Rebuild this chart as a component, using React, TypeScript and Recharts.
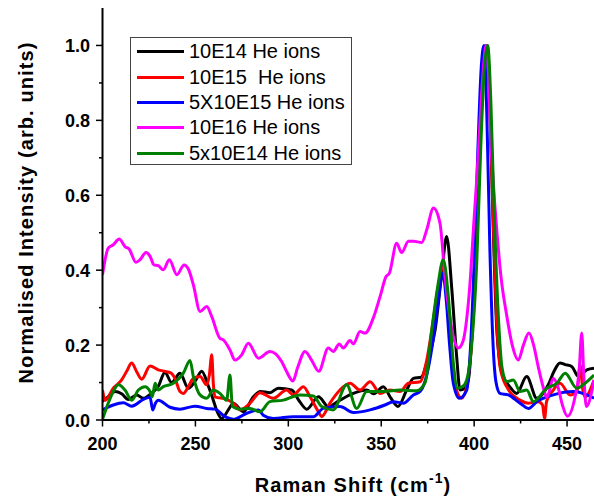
import { Legend, Line, LineChart, XAxis, YAxis } from "recharts";

// Raman spectra, normalised; [shift cm-1, intensity]
const X_TICKS = [200, 225, 250, 275, 300, 325, 350, 375, 400, 425, 450];
const Y_TICKS = [0, 0.1, 0.2, 0.3, 0.4, 0.5, 0.6, 0.7, 0.8, 0.9, 1.0];

const he10E14: [number, number][] = [
  [200, 0.05], [203.1, 0.062], [206.7, 0.076], [210.3, 0.07], [213.9, 0.055], [218.4, 0.067], [222, 0.058],
  [226, 0.07], [230, 0.09], [233.6, 0.127], [237.2, 0.1], [241.7, 0.125], [246.2, 0.085], [250, 0.105],
  [253.4, 0.13], [257, 0.09], [259.5, 0.055], [261.5, 0.025], [264.2, 0.004], [267.7, 0.027], [270.4, 0.045],
  [275.8, 0.022], [281.2, 0.062], [285, 0.076], [290.1, 0.073], [294.6, 0.085], [301.8, 0.08], [306, 0.05],
  [309.9, 0.029], [316.2, 0.062], [321.5, 0.036], [327.8, 0.053], [335, 0.071], [342.2, 0.08], [346, 0.07],
  [351.1, 0.089], [355, 0.06], [359, 0.036], [363.7, 0.08], [367.3, 0.111], [371.5, 0.114], [374.5, 0.152],
  [379, 0.24], [382.6, 0.392], [385.2, 0.49], [388, 0.348], [390.6, 0.169], [392.4, 0.08], [395, 0.085],
  [396.9, 0.107], [398.5, 0.2], [400.5, 0.42], [402.5, 0.7], [404.5, 0.93], [406.4, 1.0], [408.3, 0.86],
  [410.3, 0.51], [412, 0.26], [413.9, 0.15], [415.7, 0.116], [419, 0.09], [422.9, 0.071], [428.3, 0.116],
  [433.7, 0.058], [439.9, 0.094], [443, 0.13], [446.2, 0.152], [449, 0.148], [452.5, 0.143], [456.1, 0.116],
  [460.6, 0.134], [464.5, 0.138],
];

const he10E15: [number, number][] = [
  [200, 0.08], [201.5, 0.053], [205.8, 0.085], [210.3, 0.107], [213, 0.13], [215.7, 0.152], [218.4, 0.129],
  [221.1, 0.109], [225.6, 0.144], [230, 0.134], [234.5, 0.129], [237, 0.125], [239, 0.111], [241.7, 0.076],
  [243.5, 0.071], [246.2, 0.089], [248.9, 0.111], [252.5, 0.116], [256.1, 0.094], [257.5, 0.12], [258.8, 0.174],
  [259.6, 0.1], [260.5, 0.062], [266.8, 0.055], [270.4, 0.045], [274, 0.027], [279.4, 0.045], [284.8, 0.073],
  [291.9, 0.058], [299.1, 0.08], [302.7, 0.067], [308.1, 0.089], [311.7, 0.062], [316.2, 0.022], [318, 0.009],
  [322.4, 0.045], [327.8, 0.08], [333.2, 0.098], [338.6, 0.08], [344, 0.102], [349.4, 0.071], [354.7, 0.08],
  [360.1, 0.076], [364.6, 0.098], [370.9, 0.102], [374.5, 0.16], [377.5, 0.25], [380.5, 0.35], [383.4, 0.41],
  [385.5, 0.33], [387.5, 0.2], [390, 0.09], [393.3, 0.058], [396, 0.09], [398.5, 0.2], [401, 0.42], [403, 0.72],
  [405, 0.94], [406.8, 1.0], [408.5, 0.86], [410, 0.57], [412, 0.28], [414, 0.14], [417.5, 0.089], [424.7, 0.053],
  [429.3, 0.045], [434.6, 0.049], [436.8, 0.04], [437.9, 0.004], [439, 0.05], [442.6, 0.08], [446.2, 0.098],
  [451.6, 0.067], [455.5, 0.08], [457, 0.147], [458.5, 0.08], [459.7, 0.062], [464.5, 0.107],
];

const he5x10E15: [number, number][] = [
  [200, 0.027], [205.8, 0.04], [211.2, 0.046], [215.7, 0.037], [222, 0.055], [225.6, 0.061], [227, 0.027],
  [228.5, 0.045], [230, 0.053], [236.3, 0.034], [241.7, 0.029], [249.8, 0.037], [256.1, 0.031], [260.5, 0.029],
  [265.9, 0.009], [270.4, 0.002], [277.6, 0.018], [283.9, 0.027], [286.5, 0.013], [291.9, 0.004], [302.7, 0.009],
  [313.5, 0.009], [318.8, 0.031], [327.8, 0.036], [335, 0.02], [344, 0.027], [352, 0.04], [356.5, 0.049],
  [361.9, 0.045], [367.3, 0.067], [370.9, 0.076], [374.5, 0.12], [377.5, 0.2], [380.2, 0.3], [383.1, 0.392],
  [385, 0.32], [386.8, 0.2], [388.8, 0.098], [392, 0.058], [396, 0.08], [398, 0.19], [400, 0.42], [402, 0.72],
  [403.8, 0.94], [405.3, 1.0], [406.8, 0.82], [408.5, 0.45], [410.2, 0.2], [411.8, 0.1], [413.9, 0.071],
  [418.4, 0.067], [424.7, 0.045], [429.2, 0.031], [433.7, 0.049], [442.6, 0.067], [453.4, 0.076],
  [460.6, 0.067], [464.5, 0.058],
];

const he10E16: [number, number][] = [
  [200, 0.388], [203.1, 0.459], [205.8, 0.468], [209, 0.483], [212.1, 0.463], [214.4, 0.456], [218, 0.421],
  [220.2, 0.428], [223.4, 0.447], [225.6, 0.437], [227.7, 0.414], [230, 0.412], [232.7, 0.401], [236, 0.428],
  [240, 0.388], [243.9, 0.414], [246.2, 0.403], [248.9, 0.361], [252.5, 0.29], [256.1, 0.303], [258.8, 0.276],
  [263.2, 0.218], [265, 0.214], [268.6, 0.187], [271.3, 0.16], [274.9, 0.174], [278.5, 0.205], [283.9, 0.165],
  [290.1, 0.183], [296.4, 0.156], [299, 0.13], [302.5, 0.104], [305, 0.14], [309, 0.183], [312.5, 0.16],
  [316.4, 0.13], [321.5, 0.192], [324.2, 0.183], [327.4, 0.203], [329.6, 0.192], [333.2, 0.212], [335, 0.203],
  [338.6, 0.236], [341.3, 0.232], [345.7, 0.272], [349.4, 0.33], [352.6, 0.383], [354.4, 0.392], [358.3, 0.472],
  [361, 0.447], [364.6, 0.477], [367.3, 0.477], [371.8, 0.474], [374.5, 0.508], [378.1, 0.566], [381.6, 0.526],
  [384.3, 0.383], [386.8, 0.28], [388.8, 0.223], [391.5, 0.192], [394, 0.21], [396, 0.27], [398, 0.38],
  [399.6, 0.51], [401.5, 0.65], [403.2, 0.8], [405, 0.94], [406.4, 1.0], [407.5, 0.95], [408.7, 0.78],
  [410.5, 0.62], [412.3, 0.5], [414.5, 0.38], [417.5, 0.28], [420.5, 0.2], [423.8, 0.16], [426.5, 0.2],
  [429.5, 0.232], [432, 0.2], [434.6, 0.14], [437.6, 0.08], [439.1, 0.06], [442.6, 0.111], [445, 0.09],
  [447.5, 0.04], [450.2, 0.01], [454.3, 0.062], [456.5, 0.13], [457.9, 0.232], [459, 0.12], [460.4, 0.036],
  [464.5, 0.107],
];

const he5x10E14: [number, number][] = [
  [200, 0.002], [203.1, 0.045], [205.8, 0.076], [208.5, 0.094], [212.1, 0.08], [215.7, 0.053], [219.3, 0.08],
  [222.9, 0.089], [225.6, 0.076], [226.8, 0.062], [228.3, 0.098], [230, 0.08], [232.7, 0.089], [238.1, 0.098],
  [243.5, 0.125], [247.1, 0.159], [248.9, 0.116], [252.5, 0.067], [256.1, 0.058], [259.6, 0.08], [263.2, 0.071],
  [266.8, 0.053], [268.6, 0.12], [269.9, 0.036], [274, 0.029], [279.4, 0.031], [284.8, 0.022], [290.1, 0.049],
  [297.3, 0.053], [306.3, 0.067], [313.5, 0.064], [318, 0.036], [324.2, 0.027], [331.4, 0.094], [336.8, 0.031],
  [342.2, 0.076], [351.1, 0.076], [360.1, 0.08], [369.1, 0.078], [373.6, 0.1], [377.2, 0.241], [380.5, 0.36],
  [383.4, 0.428], [386.1, 0.33], [388.8, 0.152], [391, 0.085], [394, 0.09], [396, 0.107], [399, 0.22],
  [401.4, 0.42], [403.5, 0.72], [405.5, 0.94], [407.3, 1.0], [409, 0.85], [410.5, 0.6], [413, 0.28], [415, 0.14],
  [417.5, 0.102], [421.1, 0.107], [424.7, 0.076], [428.3, 0.08], [431.9, 0.049], [439.1, 0.085], [444.5, 0.098],
  [449, 0.125], [455.2, 0.085], [460.6, 0.102], [464.5, 0.12],
];

const SERIES = [
  { name: "10E14 He ions", color: "#000000", points: he10E14 },
  { name: "10E15  He ions", color: "#ff0000", points: he10E15 },
  { name: "5X10E15 He ions", color: "#0000ff", points: he5x10E15 },
  { name: "10E16 He ions", color: "#ff00ff", points: he10E16 },
  { name: "5x10E14 He ions", color: "#008000", points: he5x10E14 },
];

const FONT = "'Liberation Sans', Arial, sans-serif";

function XTick({ x, y, payload }: any) {
  const major = payload.value % 50 === 0;
  return (
    <g>
      <line x1={x} y1={y} x2={x} y2={y + (major ? 6.5 : 3.5)} stroke="#000" strokeWidth={1.5} />
      {major && (
        <text x={x} y={y + 29.5} textAnchor="middle" fontSize={18} fontWeight="bold" fontFamily={FONT} fill="#000">
          {payload.value}
        </text>
      )}
    </g>
  );
}

function YTick({ x, y, payload }: any) {
  const major = Math.round(payload.value * 10) % 2 === 0;
  return (
    <g>
      <line x1={x} y1={y} x2={x - (major ? 6.5 : 3.5)} y2={y} stroke="#000" strokeWidth={1.5} />
      {major && (
        <text x={x - 12.5} y={y + 6.5} textAnchor="end" fontSize={18} fontWeight="bold" fontFamily={FONT} fill="#000">
          {payload.value.toFixed(1)}
        </text>
      )}
    </g>
  );
}

const XTitle = () => (
  <text x={353} y={492} textAnchor="middle" fontSize={20} fontWeight="bold" fontFamily={FONT} letterSpacing={1.1} fill="#000">
    Raman Shift (cm<tspan fontSize={14} dy={-9}>-1</tspan><tspan dy={9}>)</tspan>
  </text>
);

const YTitle = () => (
  <text x={32.5} y={212.5} transform="rotate(-90 32.5 212.5)" textAnchor="middle" fontSize={20} fontWeight="bold"
    fontFamily={FONT} letterSpacing={1.1} fill="#000">
    Normalised Intensity (arb. units)
  </text>
);

const LegendBox = () => (
  <div style={{ border: "1px solid #444", background: "#fff", boxSizing: "border-box", width: 222, height: 128, paddingTop: 1, fontFamily: FONT, fontSize: 20, color: "#000" }}>
    {SERIES.map((s) => (
      <div key={s.name} style={{ display: "flex", alignItems: "center", height: 25.4, whiteSpace: "pre" }}>
        <span style={{ display: "inline-block", width: 47, height: 3, background: s.color, marginLeft: 6, marginRight: 5 }} />
        <span>{s.name}</span>
      </div>
    ))}
  </div>
);

export default function App() {
  return (
    <div style={{ position: "absolute", left: 0, top: 0, width: 594, height: 502, overflow: "hidden", background: "#fff" }}>
      <LineChart width={594} height={502} margin={{ top: 8, right: 0, bottom: 0, left: 0 }}>
        <XAxis
          type="number"
          dataKey="x"
          domain={[200, 464.5]}
          allowDataOverflow
          ticks={X_TICKS}
          interval={0}
          height={82}
          tickSize={0}
          tickMargin={0}
          tickLine={false}
          tick={<XTick />}
          axisLine={{ stroke: "#000", strokeWidth: 2 }}
          label={{ content: XTitle }}
        />
        <XAxis
          xAxisId="top"
          orientation="top"
          type="number"
          domain={[200, 464.5]}
          allowDataOverflow
          ticks={X_TICKS}
          interval={0}
          height={0}
          tickSize={3}
          tickFormatter={() => ""}
          tickLine={{ stroke: "#000" }}
          axisLine={{ stroke: "#000", strokeWidth: 1.5 }}
        />
        <YAxis
          type="number"
          dataKey="y"
          domain={[0, 1.1]}
          allowDataOverflow
          ticks={Y_TICKS}
          interval={0}
          width={102.5}
          tickSize={0}
          tickMargin={0}
          tickLine={false}
          tick={<YTick />}
          axisLine={{ stroke: "#000", strokeWidth: 2 }}
          label={{ content: YTitle }}
        />
        <Legend
          layout="vertical"
          align="center"
          verticalAlign="middle"
          content={() => <LegendBox />}
          wrapperStyle={{ left: 130, top: 37, width: 222, height: 128 }}
        />
        {SERIES.map((s) => (
          <Line
            key={s.name}
            name={s.name}
            data={s.points.map(([x, y]) => ({ x, y }))}
            dataKey="y"
            type="monotone"
            stroke={s.color}
            strokeWidth={3}
            dot={false}
            activeDot={false}
            isAnimationActive={false}
          />
        ))}
      </LineChart>
    </div>
  );
}
